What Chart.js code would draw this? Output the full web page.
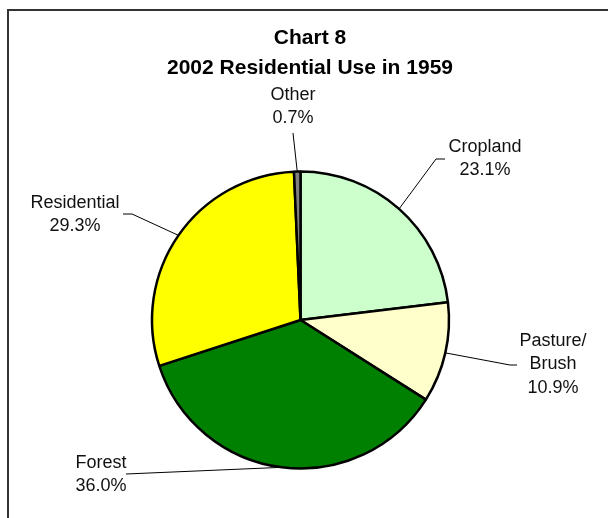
<!DOCTYPE html>
<html lang="en">
<head>
  <meta charset="UTF-8">
  <title>Chart 8 - 2002 Residential Use in 1959</title>
  <script src="https://cdn.jsdelivr.net/npm/chart.js"></script>
  <style>
    html, body { margin: 0; padding: 0; background: #fff; }
    #wrap { position: relative; width: 608px; height: 518px; }
  </style>
</head>
<body>
  <div id="wrap"><canvas id="pie" width="608" height="518"></canvas></div>
  <script>
  // data
  const titleLines = ['Chart 8', '2002 Residential Use in 1959'];
  const categories = ['Cropland', 'Pasture/Brush', 'Forest', 'Residential', 'Other'];
  const shares = [23.1, 10.9, 36.0, 29.3, 0.7];
  const sliceColors = ['#CCFFCC', '#FFFFCC', '#008000', '#FFFF00', '#808080'];

  // label placement: text centre x, first line y, leader elbow and end
  const labelSpots = [
    { x: 485, y: 147, elbow: [436, 159], end: [445, 159] },
    { x: 553, y: 341, elbow: [510, 365], end: [517, 365] },
    { x: 101, y: 463, elbow: [126, 474], end: [126, 474] },
    { x: 75,  y: 203, elbow: [132, 214], end: [123, 214] },
    { x: 293, y: 95,  elbow: [293, 133], end: [293, 133] }
  ];

  const labelLines = (i) => {
    const name = categories[i].replace('/', '/\n').split('\n');
    return [...name, shares[i].toFixed(1) + '%'];
  };

  const decor = {
    id: 'decor',
    beforeDraw(chart) {
      const ctx = chart.ctx;
      ctx.save();
      ctx.strokeStyle = '#333';
      ctx.lineWidth = 2;
      ctx.beginPath();
      ctx.moveTo(8, 518);
      ctx.lineTo(8, 10);
      ctx.lineTo(608, 10);
      ctx.stroke();

      ctx.fillStyle = '#000';
      ctx.textAlign = 'center';
      ctx.textBaseline = 'middle';
      ctx.font = 'bold 21px "Liberation Sans", Arial, sans-serif';
      titleLines.forEach((t, k) => ctx.fillText(t, 310, 38 + k * 30));
      ctx.restore();
    },
    afterDraw(chart) {
      const ctx = chart.ctx;
      const arcs = chart.getDatasetMeta(0).data;
      ctx.save();
      ctx.strokeStyle = '#000';
      ctx.lineWidth = 1;
      arcs.forEach((arc, i) => {
        const s = labelSpots[i];
        const mid = (arc.startAngle + arc.endAngle) / 2;
        const ax = arc.x + Math.cos(mid) * arc.outerRadius;
        const ay = arc.y + Math.sin(mid) * arc.outerRadius;
        ctx.beginPath();
        ctx.moveTo(ax, ay);
        ctx.lineTo(s.elbow[0], s.elbow[1]);
        ctx.lineTo(s.end[0], s.end[1]);
        ctx.stroke();
      });
      ctx.fillStyle = '#111';
      ctx.textAlign = 'center';
      ctx.textBaseline = 'middle';
      ctx.font = '18px "Liberation Sans", Arial, sans-serif';
      labelSpots.forEach((s, i) => {
        labelLines(i).forEach((t, k) => ctx.fillText(t, s.x, s.y + k * 23.5));
      });
      ctx.restore();
    }
  };

  new Chart(document.getElementById('pie'), {
    type: 'pie',
    data: {
      labels: categories,
      datasets: [{
        data: shares,
        backgroundColor: sliceColors,
        borderColor: '#000',
        borderWidth: 2.5
      }]
    },
    options: {
      responsive: false,
      animation: false,
      radius: 148.5,
      layout: { padding: { left: 145, right: 152, top: 170, bottom: 48 } },
      plugins: {
        legend: { display: false },
        title: { display: false },
        tooltip: { enabled: false }
      }
    },
    plugins: [decor]
  });
  </script>
</body>
</html>
